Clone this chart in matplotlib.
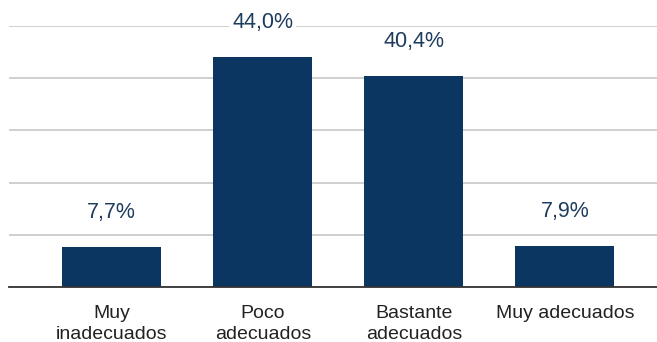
import matplotlib.pyplot as plt
import numpy as np

categorias = ['Muy\ninadecuados', 'Poco\nadecuados', 'Bastante\nadecuados', 'Muy adecuados']
valores = [7.7, 44.0, 40.4, 7.9]
etiquetas = ['7,7%', '44,0%', '40,4%', '7,9%']

COLOR_BARRA = '#0b3662'
COLOR_TEXTO = '#1d3c5e'

plt.rcParams['font.family'] = ['Liberation Sans', 'DejaVu Sans']

fig = plt.figure(figsize=(6.57, 3.42), dpi=100)
ax = fig.add_axes([9 / 657, 1 - 287 / 342, 648 / 657, (287 - 26) / 342])

x = np.arange(len(categorias))
ax.bar(x, valores, width=0.656, color=COLOR_BARRA, zorder=3)

for xi, v, txt in zip(x, valores, etiquetas):
    ax.annotate(txt, xy=(xi, v), xytext=(0, 25), textcoords='offset points',
                ha='center', va='center', fontsize=15.5, color=COLOR_TEXTO, zorder=4,
                bbox=dict(boxstyle='square,pad=0.15', fc='white', ec='none'))

ax.set_xlim(-0.68, 3.61)
ax.set_ylim(0, 50)
ax.set_yticks(np.arange(0, 51, 10))
ax.yaxis.grid(True, color='#cccccc', lw=1.3, zorder=0)
ax.tick_params(axis='y', left=False, labelleft=False)
ax.tick_params(axis='x', length=0, pad=13, labelsize=14, colors='#222222')
ax.set_xticks(x)
ax.set_xticklabels(categorias, linespacing=1.33)

for lado in ['top', 'right', 'left']:
    ax.spines[lado].set_visible(False)
ax.spines['bottom'].set_color('#333333')
ax.spines['bottom'].set_linewidth(1.3)
ax.spines['bottom'].set_zorder(5)

fig.savefig('out.png', dpi=100)
